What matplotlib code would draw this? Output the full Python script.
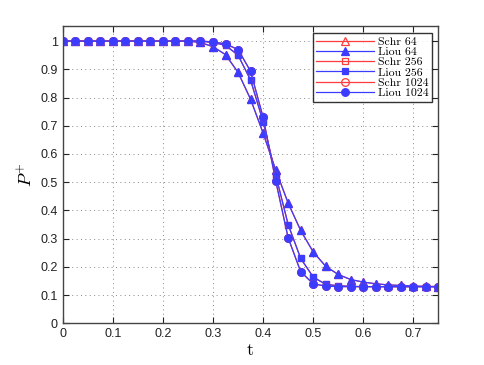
import matplotlib
matplotlib.use("Agg")
import matplotlib.pyplot as plt

plt.rcParams['mathtext.fontset'] = 'cm'

t = [0.0, 0.025, 0.05, 0.075, 0.1, 0.125, 0.15, 0.175, 0.2, 0.225, 0.25,
     0.275, 0.3, 0.325, 0.35, 0.375, 0.4, 0.425, 0.45, 0.475, 0.5,
     0.525, 0.55, 0.575, 0.6, 0.625, 0.65, 0.675, 0.7, 0.725, 0.75]

schr_64 = [1.0, 1.0, 1.0, 1.0, 1.0, 1.0, 1.0, 1.0, 1.0, 1.0, 1.0,
           0.995, 0.98, 0.952, 0.889, 0.794, 0.674, 0.544, 0.426, 0.329, 0.253,
           0.202, 0.173, 0.155, 0.146, 0.14, 0.136, 0.134, 0.132, 0.131, 0.13]
liou_64 = [1.0, 1.0, 1.0, 1.0, 1.0, 1.0, 1.0, 1.0, 1.0, 1.0, 1.0,
           0.995, 0.98, 0.952, 0.889, 0.794, 0.674, 0.544, 0.426, 0.329, 0.253,
           0.202, 0.173, 0.155, 0.146, 0.14, 0.136, 0.134, 0.132, 0.131, 0.13]
schr_256 = [1.0, 1.0, 1.0, 1.0, 1.0, 1.0, 1.0, 1.0, 1.0, 1.0, 1.0,
            1.0, 0.995, 0.985, 0.95, 0.862, 0.715, 0.527, 0.35, 0.23, 0.164,
            0.138, 0.133, 0.131, 0.13, 0.13, 0.13, 0.13, 0.13, 0.13, 0.13]
liou_256 = [1.0, 1.0, 1.0, 1.0, 1.0, 1.0, 1.0, 1.0, 1.0, 1.0, 1.0,
            1.0, 0.995, 0.985, 0.95, 0.862, 0.715, 0.527, 0.35, 0.23, 0.164,
            0.138, 0.133, 0.131, 0.13, 0.13, 0.13, 0.13, 0.13, 0.13, 0.13]
schr_1024 = [1.0, 1.0, 1.0, 1.0, 1.0, 1.0, 1.0, 1.0, 1.0, 1.0, 1.0,
             1.0, 0.997, 0.99, 0.97, 0.893, 0.73, 0.506, 0.303, 0.183, 0.14,
             0.132, 0.13, 0.13, 0.13, 0.13, 0.13, 0.13, 0.13, 0.13, 0.13]
liou_1024 = [1.0, 1.0, 1.0, 1.0, 1.0, 1.0, 1.0, 1.0, 1.0, 1.0, 1.0,
             1.0, 0.997, 0.99, 0.97, 0.893, 0.73, 0.506, 0.303, 0.183, 0.14,
             0.132, 0.13, 0.13, 0.13, 0.13, 0.13, 0.13, 0.13, 0.13, 0.13]

xticks = [0, 0.1, 0.2, 0.3, 0.4, 0.5, 0.6, 0.7]
yticks = [0, 0.1, 0.2, 0.3, 0.4, 0.5, 0.6, 0.7, 0.8, 0.9, 1]

red = '#ff3c3c'
blue = '#3c3cff'

fig = plt.figure(figsize=(4.85, 3.65), dpi=100)
ax = fig.add_axes([0.1293, 0.1142, 0.904 - 0.1293, 0.930 - 0.1142])

series = [
    ('Schr 64', schr_64, red, '^', 'none'),
    ('Liou 64', liou_64, blue, '^', blue),
    ('Schr 256', schr_256, red, 's', 'none'),
    ('Liou 256', liou_256, blue, 's', blue),
    ('Schr 1024', schr_1024, red, 'o', 'none'),
    ('Liou 1024', liou_1024, blue, 'o', blue),
]
for lab, y, c, m, fc in series:
    ms = 5.5 if m != 's' else 4.8
    ax.plot(t, y, color=c, marker=m, markerfacecolor=fc, markeredgecolor=c,
            markersize=ms, markeredgewidth=0.9, linewidth=0.9, label=lab)

ax.set_xlim(0, 0.75)
ax.set_ylim(0, 1.055)
ax.set_xticks(xticks)
ax.set_xticklabels([('%g' % v) for v in xticks])
ax.set_yticks(yticks)
ax.set_yticklabels([('%g' % v) for v in yticks])
ax.tick_params(direction='in', length=4, width=0.8, labelsize=9, colors='#222222',
               top=True, right=True)
for lab in ax.get_xticklabels() + ax.get_yticklabels():
    lab.set_family('Liberation Sans')
ax.grid(True, color='#888888', linestyle=(0, (1, 3.5)), linewidth=0.7)
for s in ax.spines.values():
    s.set_color('#444444')
    s.set_linewidth(1.0)

ax.set_xlabel('t', family='cmr10', fontsize=13, labelpad=2)
ax.set_ylabel('$P^{+}$', fontsize=13, labelpad=3)

leg = ax.legend(loc='upper right', bbox_to_anchor=(0.983, 0.975),
                prop={'family': 'cmr10', 'size': 8.5}, frameon=True, fancybox=False,
                handlelength=4.9, handletextpad=0.3, borderpad=0.3,
                labelspacing=0.0, borderaxespad=0.0)
leg.get_frame().set_edgecolor('black')
leg.get_frame().set_linewidth(1.0)

fig.savefig('out.png', dpi=100)
